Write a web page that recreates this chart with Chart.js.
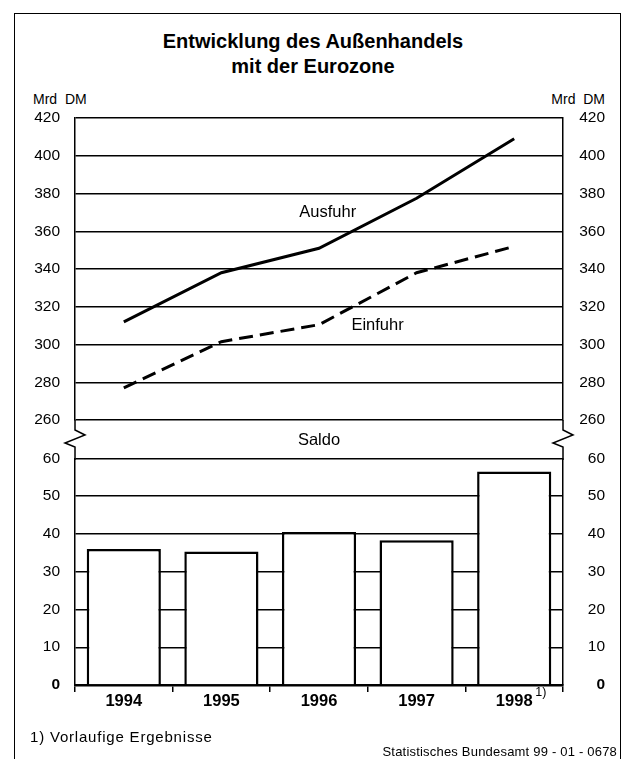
<!DOCTYPE html>
<html>
<head>
<meta charset="utf-8">
<script src="https://cdn.jsdelivr.net/npm/chart.js@4/dist/chart.umd.min.js"></script>
<style>
  body { margin: 0; background: #fff; }
  #page { position: relative; width: 626px; height: 759px; overflow: hidden; font-family: "Liberation Sans", Arial, sans-serif; color: #000; }
  #frame { position: absolute; left: 14px; top: 13px; width: 605px; height: 800px; border: 1.5px solid #000; }
  #title { position: absolute; top: 29px; left: 0; width: 626px; text-align: center; font-weight: bold; font-size: 20px; line-height: 25px; }
  .unit { position: absolute; top: 91px; font-size: 14px; line-height: 16px; white-space: pre; }
  #note { position: absolute; left: 30px; top: 729px; font-size: 15px; line-height: 16px; letter-spacing: 0.8px; }
  #source { position: absolute; right: 9px; top: 745px; font-size: 13px; line-height: 14px; letter-spacing: 0.2px; }
  canvas { position: absolute; left: 0; }
</style>
</head>
<body>
<div id="page">
  <div id="frame"></div>
  <div id="title">Entwicklung des Außenhandels<br>mit der Eurozone</div>
  <div class="unit" style="left:33px">Mrd  DM</div>
  <div class="unit" style="right:21px">Mrd  DM</div>
  <canvas id="upper" width="626" height="460" style="top:0"></canvas>
  <canvas id="lower" width="626" height="325" style="top:434px"></canvas>
  <div id="note">1) Vorlaufige Ergebnisse</div>
  <div id="source">Statistisches Bundesamt 99 - 01 - 0678</div>
</div>
<script>
// Daten (Mrd DM)
var years = ["1994", "1995", "1996", "1997", "1998"];
var ausfuhr = [312, 338, 351, 377.5, 409];
var einfuhr = [277, 301.5, 310.5, 338, 352];
var saldo = [36, 35.3, 40.5, 38.3, 56.5];
var upperRange = [260, 420, 20];
var lowerRange = [0, 60, 10];

var FONT = "Liberation Sans";

function yAxis(pos, range, withGrid) {
  return {
    position: pos,
    min: range[0],
    max: range[1],
    afterFit: function (scale) { scale.width = pos === "left" ? 75 : 42; },
    ticks: {
      stepSize: range[2],
      color: "#000",
      padding: 15,
      crossAlign: pos === "left" ? "near" : "far",
      font: function (c) {
        return { family: FONT, size: 15.5, weight: c.tick && c.tick.value === 0 ? "bold" : "normal" };
      },
    },
    grid: { display: true, drawOnChartArea: withGrid, drawTicks: false, color: "#000", lineWidth: 1.4 },
    border: { display: true, color: "#000", width: 1.5 },
  };
}

// Bruchstelle, Saldo und Linienbeschriftungen
var breakMarks = {
  id: "breakMarks",
  afterDraw: function (chart) {
    var ctx = chart.ctx, a = chart.chartArea;
    var x = chart.scales.x, y = chart.scales.y;
    ctx.save();
    ctx.strokeStyle = "#000";
    ctx.lineWidth = 1.5;
    [a.left, a.right].forEach(function (px) {
      ctx.beginPath();
      ctx.moveTo(px, a.bottom);
      ctx.lineTo(px, a.bottom + 10);
      ctx.lineTo(px + 10, a.bottom + 15);
      ctx.lineTo(px - 10, a.bottom + 23);
      ctx.lineTo(px, a.bottom + 27);
      ctx.lineTo(px, a.bottom + 40);
      ctx.stroke();
    });
    ctx.fillStyle = "#000";
    ctx.textAlign = "center";
    ctx.textBaseline = "middle";
    ctx.font = "16.5px " + FONT;
    ctx.fillText("Saldo", x.getPixelForValue(2), a.bottom + 20);
    ctx.fillText("Ausfuhr", x.getPixelForValue(2.09), y.getPixelForValue(370));
    ctx.fillText("Einfuhr", x.getPixelForValue(2.6), y.getPixelForValue(310));
    ctx.restore();
  },
};

var footMark = {
  id: "footMark",
  afterDraw: function (chart) {
    var ctx = chart.ctx, x = chart.scales.x;
    ctx.save();
    ctx.fillStyle = "#000";
    ctx.textAlign = "left";
    ctx.textBaseline = "middle";
    ctx.font = "12.5px " + FONT;
    ctx.fillText("1)", x.getPixelForValue(4) + 21, chart.chartArea.bottom + 8);
    ctx.restore();
  },
};

new Chart(document.getElementById("upper").getContext("2d"), {
  type: "line",
  data: {
    labels: years,
    datasets: [
      { label: "Ausfuhr", data: ausfuhr, borderColor: "#000", borderWidth: 3, pointRadius: 0, tension: 0 },
      { label: "Einfuhr", data: einfuhr, borderColor: "#000", borderWidth: 3, pointRadius: 0, tension: 0, borderDash: [14, 7] },
    ],
  },
  options: {
    responsive: false,
    animation: false,
    layout: { padding: { top: 118, bottom: 40, left: 0, right: 21 } },
    plugins: { legend: { display: false }, tooltip: { enabled: false } },
    scales: {
      x: { display: false, offset: true },
      y: yAxis("left", upperRange, true),
      y2: yAxis("right", upperRange, false),
    },
  },
  plugins: [breakMarks],
});

new Chart(document.getElementById("lower").getContext("2d"), {
  type: "bar",
  data: {
    labels: years,
    datasets: [
      {
        label: "Saldo",
        data: saldo,
        backgroundColor: "#fff",
        borderColor: "#000",
        borderWidth: 2.5,
        barPercentage: 0.76,
        categoryPercentage: 1,
      },
    ],
  },
  options: {
    responsive: false,
    animation: false,
    layout: { padding: { top: 11, bottom: 0, left: 0, right: 21 } },
    plugins: { legend: { display: false }, tooltip: { enabled: false } },
    scales: {
      x: {
        afterFit: function (scale) { scale.height = 74; },
        ticks: { color: "#000", padding: 0, font: { family: FONT, size: 16.5, weight: "bold" } },
        grid: { display: true, drawOnChartArea: false, drawTicks: true, tickLength: 7, color: "#000", lineWidth: 1.5 },
        border: { display: true, color: "#000", width: 2.5 },
      },
      y: yAxis("left", lowerRange, true),
      y2: yAxis("right", lowerRange, false),
    },
  },
  plugins: [footMark],
});
</script>
</body>
</html>
